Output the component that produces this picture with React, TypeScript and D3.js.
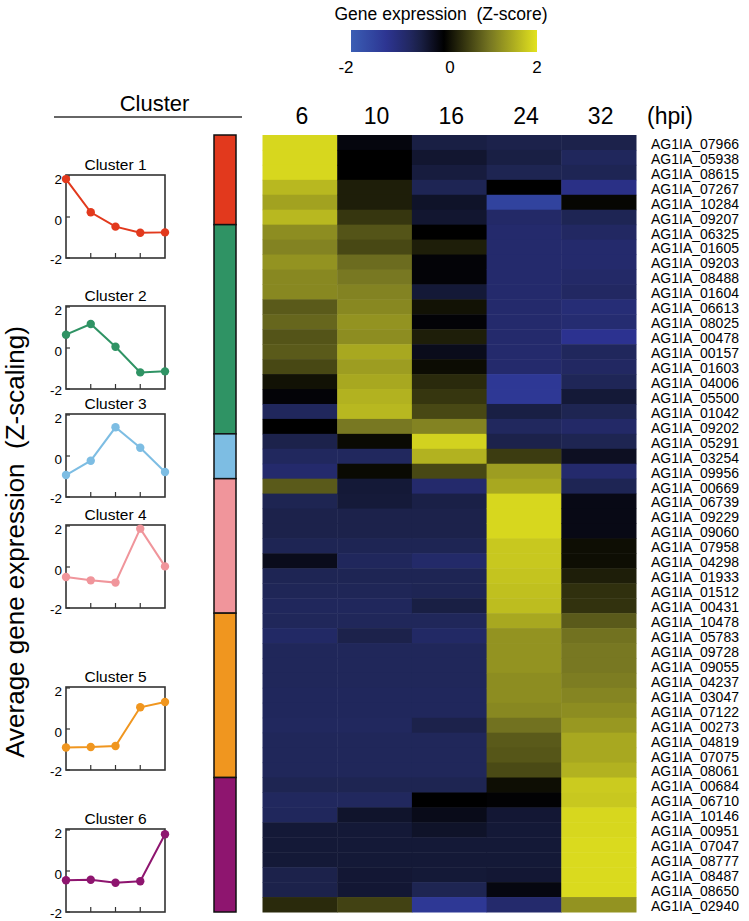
import React from "react";
import * as d3 from "d3";

const timepoints = ["6", "10", "16", "24", "32"];

const genes = [
  "AG1IA_07966", "AG1IA_05938", "AG1IA_08615", "AG1IA_07267", "AG1IA_10284", "AG1IA_09207",
  "AG1IA_06325", "AG1IA_01605", "AG1IA_09203", "AG1IA_08488", "AG1IA_01604", "AG1IA_06613",
  "AG1IA_08025", "AG1IA_00478", "AG1IA_00157", "AG1IA_01603", "AG1IA_04006", "AG1IA_05500",
  "AG1IA_01042", "AG1IA_09202", "AG1IA_05291", "AG1IA_03254", "AG1IA_09956", "AG1IA_00669",
  "AG1IA_06739", "AG1IA_09229", "AG1IA_09060", "AG1IA_07958", "AG1IA_04298", "AG1IA_01933",
  "AG1IA_01512", "AG1IA_00431", "AG1IA_10478", "AG1IA_05783", "AG1IA_09728", "AG1IA_09055",
  "AG1IA_04237", "AG1IA_03047", "AG1IA_07122", "AG1IA_00273", "AG1IA_04819", "AG1IA_07075",
  "AG1IA_08061", "AG1IA_00684", "AG1IA_06710", "AG1IA_10146", "AG1IA_00951", "AG1IA_07047",
  "AG1IA_08777", "AG1IA_08487", "AG1IA_08650", "AG1IA_02940",
];

// z-scores per time point, one entry per gene (same order as genes)
const z6 = [
  1.9, 1.9, 1.9, 1.6, 1.4, 1.6, 1.2, 1.1, 1.25, 1.15, 1.15, 0.75, 0.85, 0.7, 0.75, 0.6, 0.15, -0.05,
  -0.7, 0, -0.55, -0.72, -0.85, 0.75, -0.6, -0.55, -0.55, -0.62, -0.2, -0.62, -0.65, -0.7, -0.68, -0.78,
  -0.68, -0.68, -0.68, -0.7, -0.7, -0.72, -0.68, -0.68, -0.68, -0.6, -0.72, -0.7, -0.4, -0.4, -0.4, -0.55,
  -0.55, 0.35,
];
const z10 = [
  -0.1, 0, 0, 0.25, 0.25, 0.45, 0.7, 0.6, 0.9, 1.0, 1.1, 1.15, 1.25, 1.2, 1.45, 1.35, 1.45, 1.55,
  1.6, 1.0, 0.08, -0.72, 0.08, -0.4, -0.42, -0.55, -0.55, -0.62, -0.7, -0.62, -0.65, -0.7, -0.68, -0.55,
  -0.68, -0.68, -0.68, -0.7, -0.7, -0.72, -0.68, -0.68, -0.68, -0.6, -0.72, -0.32, -0.4, -0.4, -0.4, -0.38,
  -0.38, 0.55,
];
const z16 = [
  -0.5, -0.35, -0.45, -0.62, -0.3, -0.35, 0, 0.25, -0.05, -0.05, -0.4, 0.15, -0.05, 0.25, -0.2, 0.1, 0.35, 0.45,
  0.6, 1.1, 1.85, 1.55, 0.6, -0.85, -0.52, -0.55, -0.55, -0.62, -0.82, -0.62, -0.62, -0.5, -0.68, -0.78,
  -0.68, -0.68, -0.68, -0.7, -0.7, -0.55, -0.68, -0.68, -0.68, -0.6, 0, -0.18, -0.3, -0.4, -0.4, -0.4,
  -0.6, -1.3,
];
const z24 = [
  -0.55, -0.5, -0.6, 0, -1.5, -0.8, -0.85, -0.85, -0.85, -0.85, -0.85, -0.85, -0.85, -0.85, -0.85, -0.85, -1.3, -1.3,
  -0.5, -0.72, -0.55, 0.5, 1.35, 1.45, 1.9, 1.9, 1.9, 1.75, 1.75, 1.72, 1.68, 1.65, 1.45, 1.25,
  1.25, 1.25, 1.2, 1.2, 1.15, 0.95, 0.75, 0.72, 0.62, 0.12, -0.03, -0.38, -0.4, -0.4, -0.4, -0.38,
  -0.12, -0.85,
];
const z32 = [
  -0.55, -0.7, -0.62, -1.1, 0.05, -0.62, -0.75, -0.85, -0.85, -0.8, -0.75, -0.95, -0.9, -1.2, -0.7, -0.75, -0.65, -0.4,
  -0.6, -0.8, -0.6, -0.25, -0.85, -0.62, -0.15, -0.15, -0.15, 0.12, 0.12, 0.25, 0.4, 0.42, 0.75, 0.95,
  1.0, 1.0, 1.05, 1.12, 1.2, 1.3, 1.45, 1.45, 1.55, 1.78, 1.75, 1.9, 1.9, 1.92, 1.92, 1.92,
  1.92, 1.25,
];
const zByTime = [z6, z10, z16, z24, z32];

const clusterNames = ["Cluster 1", "Cluster 2", "Cluster 3", "Cluster 4", "Cluster 5", "Cluster 6"];
const clusterSizes = [6, 14, 3, 9, 11, 9];
const clusterColors = ["#e2391d", "#2f9364", "#7dbde3", "#f0959b", "#f0961f", "#8e156f"];

// average z-score of each cluster at 6, 10, 16, 24, 32 hpi
const cluster1Mean = [1.85, 0.23, -0.47, -0.77, -0.75];
const cluster2Mean = [0.65, 1.17, 0.06, -1.19, -1.14];
const cluster3Mean = [-0.93, -0.23, 1.4, 0.4, -0.78];
const cluster4Mean = [-0.49, -0.65, -0.76, 1.87, 0.03];
const cluster5Mean = [-0.9, -0.88, -0.83, 1.06, 1.32];
const cluster6Mean = [-0.45, -0.43, -0.57, -0.5, 1.79];
const clusterMeans = [cluster1Mean, cluster2Mean, cluster3Mean, cluster4Mean, cluster5Mean, cluster6Mean];

const legendTicks = [-2, 0, 2];
const miniTicks = [-2, 0, 2];

const font = "'Liberation Sans', Arial, Helvetica, sans-serif";
const W = 749;
const H = 921;

// layout of the small cluster panels
const panelTops = [175, 306, 414, 525, 687, 829];
const panelH = 83;
const panelX0 = 66;
const panelX1 = 165;

const color = d3
  .scaleLinear<string>()
  .domain([-2, -1.2, -0.6, 0, 1, 2])
  .range(["#3a5eb4", "#2c3290", "#1e2552", "#000000", "#787822", "#e2e21e"])
  .clamp(true);

const MiniPanel = ({ idx }: { idx: number }) => {
  const top = panelTops[idx];
  const x = d3.scalePoint<string>().domain(timepoints).range([panelX0, panelX1]);
  const y = d3.scaleLinear().domain([-2, 2]).range([top + panelH, top + 1]);
  const vals = clusterMeans[idx];
  const line = d3
    .line<number>()
    .x((_, i) => x(timepoints[i]) as number)
    .y((d) => y(d));
  const c = clusterColors[idx];
  return (
    <g>
      <text x={(panelX0 + panelX1) / 2} y={top - 5} textAnchor="middle" fontSize={15.5} fontFamily={font}>
        {clusterNames[idx]}
      </text>
      <rect x={panelX0} y={top} width={panelX1 - panelX0} height={panelH} fill="none" stroke="#333" strokeWidth={1.6} />
      {timepoints.slice(1, -1).map((t) => (
        <line key={t} x1={x(t)} x2={x(t)} y1={top + panelH} y2={top + panelH - 5} stroke="#333" strokeWidth={1.2} />
      ))}
      {miniTicks.map((v) => (
        <g key={v}>
          <line x1={panelX0} x2={panelX0 + 4} y1={y(v)} y2={y(v)} stroke="#333" strokeWidth={1.2} />
          <text x={panelX0 - 4} y={y(v) + (v < 0 ? 1.5 : 3)} dy="0.35em" textAnchor="end" fontSize={13.5} fontFamily={font}>
            {v}
          </text>
        </g>
      ))}
      <path d={line(vals) || ""} fill="none" stroke={c} strokeWidth={2} />
      {vals.map((v, i) => (
        <circle key={i} cx={x(timepoints[i])} cy={y(v)} r={4.2} fill={c} />
      ))}
    </g>
  );
};

export default function App() {
  const x = d3.scaleBand<string>().domain(timepoints).range([262.5, 636]);
  const y = d3.scaleBand<string>().domain(genes).range([135, 912]);
  const legendX = d3.scaleLinear().domain([-2, 2]).range([351, 537]);

  const starts = d3.cumsum([0, ...clusterSizes]);

  const stops = d3.range(-2, 2.01, 0.25);

  return (
    <svg
      width={W}
      height={H}
      style={{ position: "absolute", left: 0, top: 0, background: "#fff" }}
      fontFamily={font}
    >
      <defs>
        <linearGradient id="zgrad" x1="0" x2="1" y1="0" y2="0">
          {stops.map((s) => (
            <stop key={s} offset={`${((s + 2) / 4) * 100}%`} stopColor={color(s)} />
          ))}
        </linearGradient>
      </defs>

      {/* colour legend */}
      <text x={441} y={20} textAnchor="middle" fontSize={17.5} style={{ whiteSpace: "pre" }}>
        {"Gene expression  (Z-score)"}
      </text>
      <rect x={legendX(-2)} y={30} width={legendX(2) - legendX(-2)} height={22} fill="url(#zgrad)" />
      {legendTicks.map((v) => (
        <text key={v} x={legendX(v) + (v < 0 ? -5 : v === 0 ? 6 : 0)} y={73} textAnchor="middle" fontSize={17}>
          {v}
        </text>
      ))}

      {/* cluster header */}
      <text x={154.5} y={111} textAnchor="middle" fontSize={22}>
        Cluster
      </text>
      <line x1={54} x2={242} y1={117} y2={117} stroke="#333" strokeWidth={1.3} />

      <text
        transform="translate(24,542) rotate(-90)"
        textAnchor="middle"
        fontSize={26}
        style={{ whiteSpace: "pre" }}
      >
        {"Average gene expression  (Z-scaling)"}
      </text>

      {clusterNames.map((_, i) => (
        <MiniPanel key={i} idx={i} />
      ))}

      {/* cluster colour bar */}
      {clusterSizes.map((n, i) => {
        const y0 = y(genes[starts[i]]) as number;
        const y1 = (y(genes[starts[i] + n - 1]) as number) + y.bandwidth();
        return (
          <rect key={i} x={214} y={y0} width={22} height={y1 - y0} fill={clusterColors[i]} stroke="#111" strokeWidth={1.5} />
        );
      })}

      {/* column headers */}
      {timepoints.map((t) => (
        <text key={t} x={(x(t) as number) + x.bandwidth() / 2 + 2} y={124} textAnchor="middle" fontSize={23}>
          {t}
        </text>
      ))}
      <text x={647} y={124} fontSize={23}>
        (hpi)
      </text>

      {/* heatmap */}
      {zByTime.map((col, j) =>
        col.map((v, i) => (
          <rect
            key={`${j}-${i}`}
            x={x(timepoints[j])}
            y={y(genes[i])}
            width={x.bandwidth() + 0.5}
            height={y.bandwidth() + 0.5}
            fill={color(v)}
          />
        ))
      )}

      {/* gene labels */}
      {genes.map((g) => (
        <text key={g} x={651} y={(y(g) as number) + y.bandwidth() / 2 + 1.5} dy="0.35em" fontSize={14}>
          {g}
        </text>
      ))}
    </svg>
  );
}
